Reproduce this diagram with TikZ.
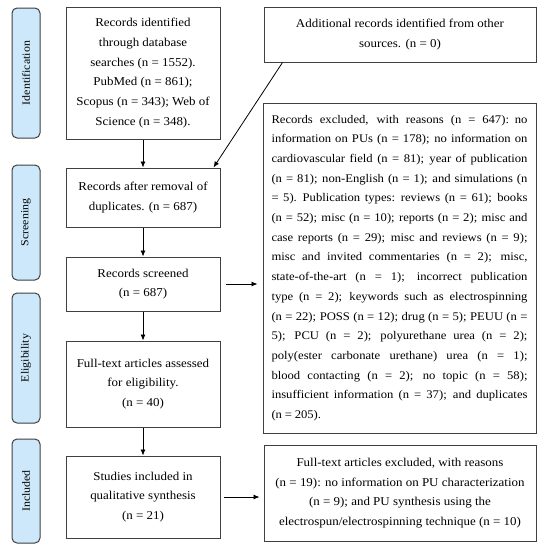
\documentclass[tikz,border=0pt]{standalone}
\usepackage{fontspec}
\setmainfont{Liberation Serif}[FakeStretch=1.08]
\usepackage[RGB]{xcolor}
\usetikzlibrary{arrows.meta,calc}
\definecolor{stagefill}{RGB}{204,232,250}
\definecolor{frame}{RGB}{64,64,64}
\newcommand{\stagelabel}[4]{\node[stagebox, minimum width=#3] (#1) at (26,#2) {#4};}
\newcommand{\fillline}[1]{\hbox to 256pt{\spaceskip=0.24em plus 1fil minus 0.1em #1}}
\tikzset{
  stagebox/.style={draw=frame, fill=stagefill, rounded corners=5pt, line width=1pt,
    rotate=90, minimum height=28pt, inner sep=0pt, font=\fontsize{11}{13}\selectfont},
  flowbox/.style={draw=frame, line width=1pt, align=center, inner sep=0pt,
    font=\fontsize{12}{19.7}\selectfont},
  arrow/.style={-{Latex[length=6pt,width=5pt]}, line width=0.8pt, black}
}
\begin{document}
\begin{tikzpicture}[x=1pt,y=-1pt]
\useasboundingbox (0,0) rectangle (544,550);
% stages
\stagelabel{ident}{73}{130pt}{Identification}
\stagelabel{screen}{222.5}{115pt}{Screening}
\stagelabel{elig}{358}{130pt}{Eligibility}
\stagelabel{incl}{491}{104pt}{Included}
% left column
\node[flowbox, minimum width=154pt, minimum height=132pt] (found) at (143,73)
  {Records identified\\through database\\searches (n = 1552).\\PubMed (n = 861);\\Scopus (n = 343); Web of\\Science (n = 348).};
\node[flowbox, minimum width=154pt, minimum height=59pt] (dedup) at (143,197.5)
  {Records after removal of\\duplicates. (n = 687)};
\node[flowbox, minimum width=154pt, minimum height=54pt] (screened) at (143,284)
  {Records screened\\(n = 687)};
\node[flowbox, minimum width=154pt, minimum height=86pt] (fulltext) at (143,384)
  {Full-text articles assessed\\for eligibility.\\(n = 40)};
\node[flowbox, minimum width=154pt, minimum height=82pt] (studies) at (143,497)
  {Studies included in\\qualitative synthesis\\(n = 21)};
% right column
\node[flowbox, minimum width=272pt, minimum height=55pt] (extra) at (400,34.5)
  {Additional records identified from other\\sources. (n = 0)};
\node[flowbox, minimum width=273pt, minimum height=330pt, align=left, text width=256pt,
  font=\fontsize{11.7}{19.7}\selectfont] (excluded) at (399.5,268)
  {\fillline{Records excluded, with reasons (n = 647): no}
  \fillline{information on PUs (n = 178); no information on}
  \fillline{cardiovascular field (n = 81); year of publication}
  \fillline{(n = 81); non-English (n = 1); and simulations (n}
  \fillline{= 5). Publication types: reviews (n = 61); books}
  \fillline{(n = 52); misc (n = 10); reports (n = 2); misc and}
  \fillline{case reports (n = 29); misc and reviews (n = 9);}
  \fillline{misc and invited commentaries (n = 2); misc,}
  \fillline{state-of-the-art (n = 1); incorrect publication}
  \fillline{type (n = 2); keywords such as electrospinning}
  \fillline{(n = 22); POSS (n = 12); drug (n = 5); PEUU (n =}
  \fillline{5); PCU (n = 2); polyurethane urea (n = 2);}
  \fillline{poly(ester carbonate urethane) urea (n = 1);}
  \fillline{blood contacting (n = 2); no topic (n = 58);}
  \fillline{insufficient information (n = 37); and duplicates}
  \fillline{(n = 205).\hfill}};
\node[flowbox, minimum width=272pt, minimum height=96pt] (ftexcl) at (400,493)
  {Full-text articles excluded, with reasons\\(n = 19): no information on PU characterization\\(n = 9); and PU synthesis using the\\electrospun/electrospinning technique (n = 10)};
% connectors
\coordinate (extrafoot) at ($(extra.south west)+(19,0)$);
\coordinate (deduphead) at ($(dedup.north east)+(-7,0)$);
\draw[arrow] (found) -- (dedup);
\draw[arrow] (extrafoot) -- (deduphead);
\draw[arrow] (dedup) -- (screened);
\draw[arrow] (screened) -- (fulltext);
\draw[arrow] (fulltext) -- (studies);
\draw[arrow, shorten <=5pt, shorten >=5pt] (screened.east) -- (screened.east -| excluded.west);
\draw[arrow, shorten <=3pt, shorten >=4pt] (studies.east) -- (studies.east -| ftexcl.west);
\end{tikzpicture}
\end{document}
